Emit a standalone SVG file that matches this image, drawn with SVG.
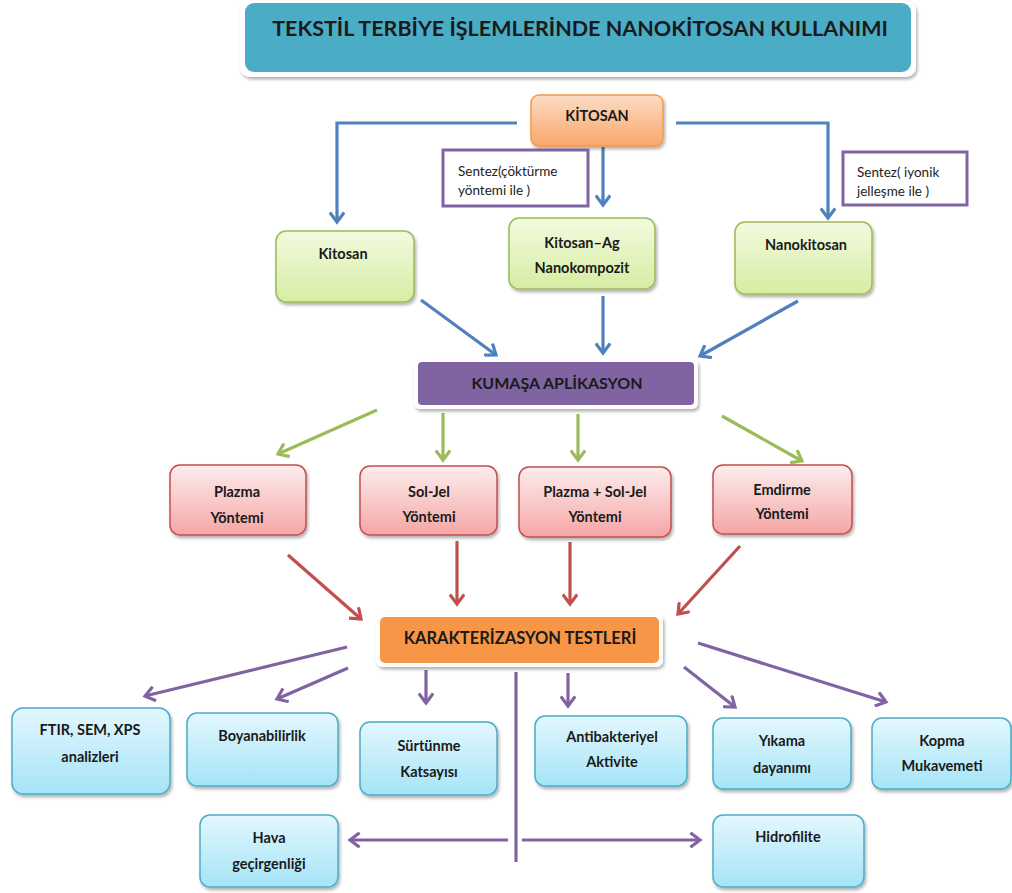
<svg xmlns="http://www.w3.org/2000/svg" width="1012" height="893" viewBox="0 0 1012 893">
<defs>
<style>
text{font-family:Lato,"Open Sans","Liberation Sans",sans-serif;font-weight:bold;fill:#1a1a1a;text-anchor:middle}
.t{font-size:14.5px}
.s{font-size:13.5px;font-weight:normal;text-anchor:start;fill:#222}
.ln{fill:none;stroke-width:3.2;stroke-linecap:butt}
.bl{stroke:#4F81BD}
.gr{stroke:#9BBB59}
.rd{stroke:#C0504D}
.pu{stroke:#8064A2}
.green{fill:url(#gG);stroke:#9BBB59;stroke-width:1.5}
.red{fill:url(#gR);stroke:#C0504D;stroke-width:1.5}
.blue{fill:url(#gB);stroke:#4BACC6;stroke-width:1.5}
.syn{fill:#fff;stroke:#8064A2;stroke-width:3}
</style>
<linearGradient id="gG" x1="0" y1="0" x2="0" y2="1"><stop offset="0" stop-color="#F3FADF"/><stop offset="1" stop-color="#D6EDA3"/></linearGradient>
<linearGradient id="gR" x1="0" y1="0" x2="0" y2="1"><stop offset="0" stop-color="#FDEDED"/><stop offset="1" stop-color="#F4A6A5"/></linearGradient>
<linearGradient id="gB" x1="0" y1="0" x2="0" y2="1"><stop offset="0" stop-color="#E3F7FD"/><stop offset="1" stop-color="#A5E4F7"/></linearGradient>
<linearGradient id="gO" x1="0" y1="0" x2="0" y2="1"><stop offset="0" stop-color="#FCDCC4"/><stop offset="1" stop-color="#F9A76A"/></linearGradient>
<filter id="sh" x="-10%" y="-10%" width="125%" height="135%"><feDropShadow dx="1.5" dy="2.5" stdDeviation="1.5" flood-color="#000" flood-opacity="0.3"/></filter>
<marker id="aB" viewBox="0 0 10 10" refX="8" refY="5" markerWidth="5" markerHeight="5" orient="auto" markerUnits="strokeWidth"><path d="M2,0.5 L8,5 L2,9.5" fill="none" stroke="#4F81BD" stroke-width="2"/></marker>
<marker id="aG" viewBox="0 0 10 10" refX="8" refY="5" markerWidth="5" markerHeight="5" orient="auto" markerUnits="strokeWidth"><path d="M2,0.5 L8,5 L2,9.5" fill="none" stroke="#9BBB59" stroke-width="2"/></marker>
<marker id="aR" viewBox="0 0 10 10" refX="8" refY="5" markerWidth="5" markerHeight="5" orient="auto" markerUnits="strokeWidth"><path d="M2,0.5 L8,5 L2,9.5" fill="none" stroke="#C0504D" stroke-width="2"/></marker>
<marker id="aP" viewBox="0 0 10 10" refX="8" refY="5" markerWidth="5" markerHeight="5" orient="auto" markerUnits="strokeWidth"><path d="M2,0.5 L8,5 L2,9.5" fill="none" stroke="#8064A2" stroke-width="2"/></marker>
</defs>
<rect width="1012" height="893" fill="#fff"/>

<g id="connectors">
<path class="ln bl" d="M517,123 H337 V222" marker-end="url(#aB)"/>
<path class="ln bl" d="M603,147 V205" marker-end="url(#aB)"/>
<path class="ln bl" d="M676,123 H828 V218" marker-end="url(#aB)"/>
<path class="ln bl" d="M421,300 L496,355" marker-end="url(#aB)"/>
<path class="ln bl" d="M603,296 V353" marker-end="url(#aB)"/>
<path class="ln bl" d="M798,301 L700,356" marker-end="url(#aB)"/>
<path class="ln gr" d="M377,410 L278,454" marker-end="url(#aG)"/>
<path class="ln gr" d="M443,413 V460" marker-end="url(#aG)"/>
<path class="ln gr" d="M578,414 V460" marker-end="url(#aG)"/>
<path class="ln gr" d="M722,416 L802,461" marker-end="url(#aG)"/>
<path class="ln rd" d="M288,555 L361,619" marker-end="url(#aR)"/>
<path class="ln rd" d="M457,541 V604" marker-end="url(#aR)"/>
<path class="ln rd" d="M570,542 V604" marker-end="url(#aR)"/>
<path class="ln rd" d="M740,546 L678,614" marker-end="url(#aR)"/>
<path class="ln pu" d="M347,647 L145,696" marker-end="url(#aP)"/>
<path class="ln pu" d="M348,668 L277,699" marker-end="url(#aP)"/>
<path class="ln pu" d="M426,670 V703" marker-end="url(#aP)"/>
<path class="ln pu" d="M516,672 V862"/>
<path class="ln pu" d="M568,673 V706" marker-end="url(#aP)"/>
<path class="ln pu" d="M684,667 L735,707" marker-end="url(#aP)"/>
<path class="ln pu" d="M698,643 L886,702" marker-end="url(#aP)"/>
<path class="ln pu" d="M508,840 H350" marker-end="url(#aP)"/>
<path class="ln pu" d="M522,840 H700" marker-end="url(#aP)"/>
</g>

<g id="title">
<rect x="240" y="1" width="676" height="76" rx="10" fill="#fff" filter="url(#sh)"/>
<rect x="245" y="3" width="666" height="69" rx="9" fill="#4BACC6"/>
<text x="580" y="36" style="font-size:21.5px">TEKSTİL TERBİYE İŞLEMLERİNDE NANOKİTOSAN KULLANIMI</text>
</g>

<g id="kitosan-top">
<rect x="531" y="95" width="132" height="51" rx="8" fill="url(#gO)" stroke="#F79646" stroke-width="1.5" filter="url(#sh)"/>
<text x="597" y="121" style="font-size:14.5px">KİTOSAN</text>
</g>

<g id="sentez1">
<rect x="443" y="150" width="145" height="56" class="syn"/>
<text class="s" x="458" y="176">Sentez(çöktürme</text>
<text class="s" x="458" y="195">yöntemi ile )</text>
</g>
<g id="sentez2">
<rect x="843" y="152" width="124" height="53" class="syn"/>
<text class="s" x="857" y="177">Sentez( iyonik</text>
<text class="s" x="857" y="196">jelleşme ile )</text>
</g>

<g id="kitosan">
<rect x="276" y="231" width="138" height="71" rx="10" class="green" filter="url(#sh)"/>
<text class="t" x="343" y="259">Kitosan</text>
</g>
<g id="kitosan-ag">
<rect x="509" y="218" width="146" height="71" rx="10" class="green" filter="url(#sh)"/>
<text class="t" x="582" y="248">Kitosan–Ag</text>
<text class="t" x="582" y="273">Nanokompozit</text>
</g>
<g id="nanokitosan">
<rect x="735" y="222" width="137" height="72" rx="10" class="green" filter="url(#sh)"/>
<text class="t" x="806" y="250">Nanokitosan</text>
</g>

<g id="kumasa">
<rect x="414" y="359" width="284" height="50" rx="6" fill="#fff" filter="url(#sh)"/>
<rect x="418" y="362" width="276" height="43" rx="4" fill="#8064A2"/>
<text x="557" y="389" style="font-size:16px">KUMAŞA APLİKASYON</text>
</g>

<g id="plazma">
<rect x="170" y="465" width="136" height="70" rx="10" class="red" filter="url(#sh)"/>
<text class="t" x="237" y="497">Plazma</text>
<text class="t" x="237" y="523">Yöntemi</text>
</g>
<g id="soljel">
<rect x="360" y="466" width="137" height="69" rx="10" class="red" filter="url(#sh)"/>
<text class="t" x="429" y="497">Sol-Jel</text>
<text class="t" x="429" y="522">Yöntemi</text>
</g>
<g id="plazma-soljel">
<rect x="519" y="467" width="152" height="70" rx="10" class="red" filter="url(#sh)"/>
<text class="t" x="595" y="497">Plazma + Sol-Jel</text>
<text class="t" x="595" y="522">Yöntemi</text>
</g>
<g id="emdirme">
<rect x="713" y="465" width="139" height="69" rx="10" class="red" filter="url(#sh)"/>
<text class="t" x="782" y="495">Emdirme</text>
<text class="t" x="782" y="519">Yöntemi</text>
</g>

<g id="karakterizasyon">
<rect x="376" y="614" width="287" height="53" rx="7" fill="#fff" filter="url(#sh)"/>
<rect x="380" y="617" width="279" height="46" rx="5" fill="#F79646"/>
<text x="520" y="644" style="font-size:16.5px">KARAKTERİZASYON TESTLERİ</text>
</g>

<g id="ftir">
<rect x="12" y="708" width="158" height="86" rx="11" class="blue" filter="url(#sh)"/>
<text class="t" x="90" y="735">FTIR, SEM, XPS</text>
<text class="t" x="90" y="762">analizleri</text>
</g>
<g id="boyanabilirlik">
<rect x="187" y="713" width="151" height="73" rx="10" class="blue" filter="url(#sh)"/>
<text class="t" x="262" y="741">Boyanabilirlik</text>
</g>
<g id="surtunme">
<rect x="360" y="722" width="137" height="73" rx="10" class="blue" filter="url(#sh)"/>
<text class="t" x="429" y="751">Sürtünme</text>
<text class="t" x="429" y="777">Katsayısı</text>
</g>
<g id="antibakteriyel">
<rect x="535" y="716" width="152" height="70" rx="10" class="blue" filter="url(#sh)"/>
<text class="t" x="612" y="742">Antibakteriyel</text>
<text class="t" x="612" y="767">Aktivite</text>
</g>
<g id="yikama">
<rect x="713" y="718" width="138" height="71" rx="10" class="blue" filter="url(#sh)"/>
<text class="t" x="782" y="746">Yıkama</text>
<text class="t" x="782" y="773">dayanımı</text>
</g>
<g id="kopma">
<rect x="872" y="718" width="139" height="71" rx="10" class="blue" filter="url(#sh)"/>
<text class="t" x="942" y="746">Kopma</text>
<text class="t" x="942" y="771">Mukavemeti</text>
</g>
<g id="hava">
<rect x="200" y="815" width="138" height="72" rx="10" class="blue" filter="url(#sh)"/>
<text class="t" x="269" y="843">Hava</text>
<text class="t" x="269" y="869">geçirgenliği</text>
</g>
<g id="hidrofilite">
<rect x="713" y="815" width="151" height="72" rx="10" class="blue" filter="url(#sh)"/>
<text class="t" x="788" y="842">Hidrofilite</text>
</g>
</svg>
